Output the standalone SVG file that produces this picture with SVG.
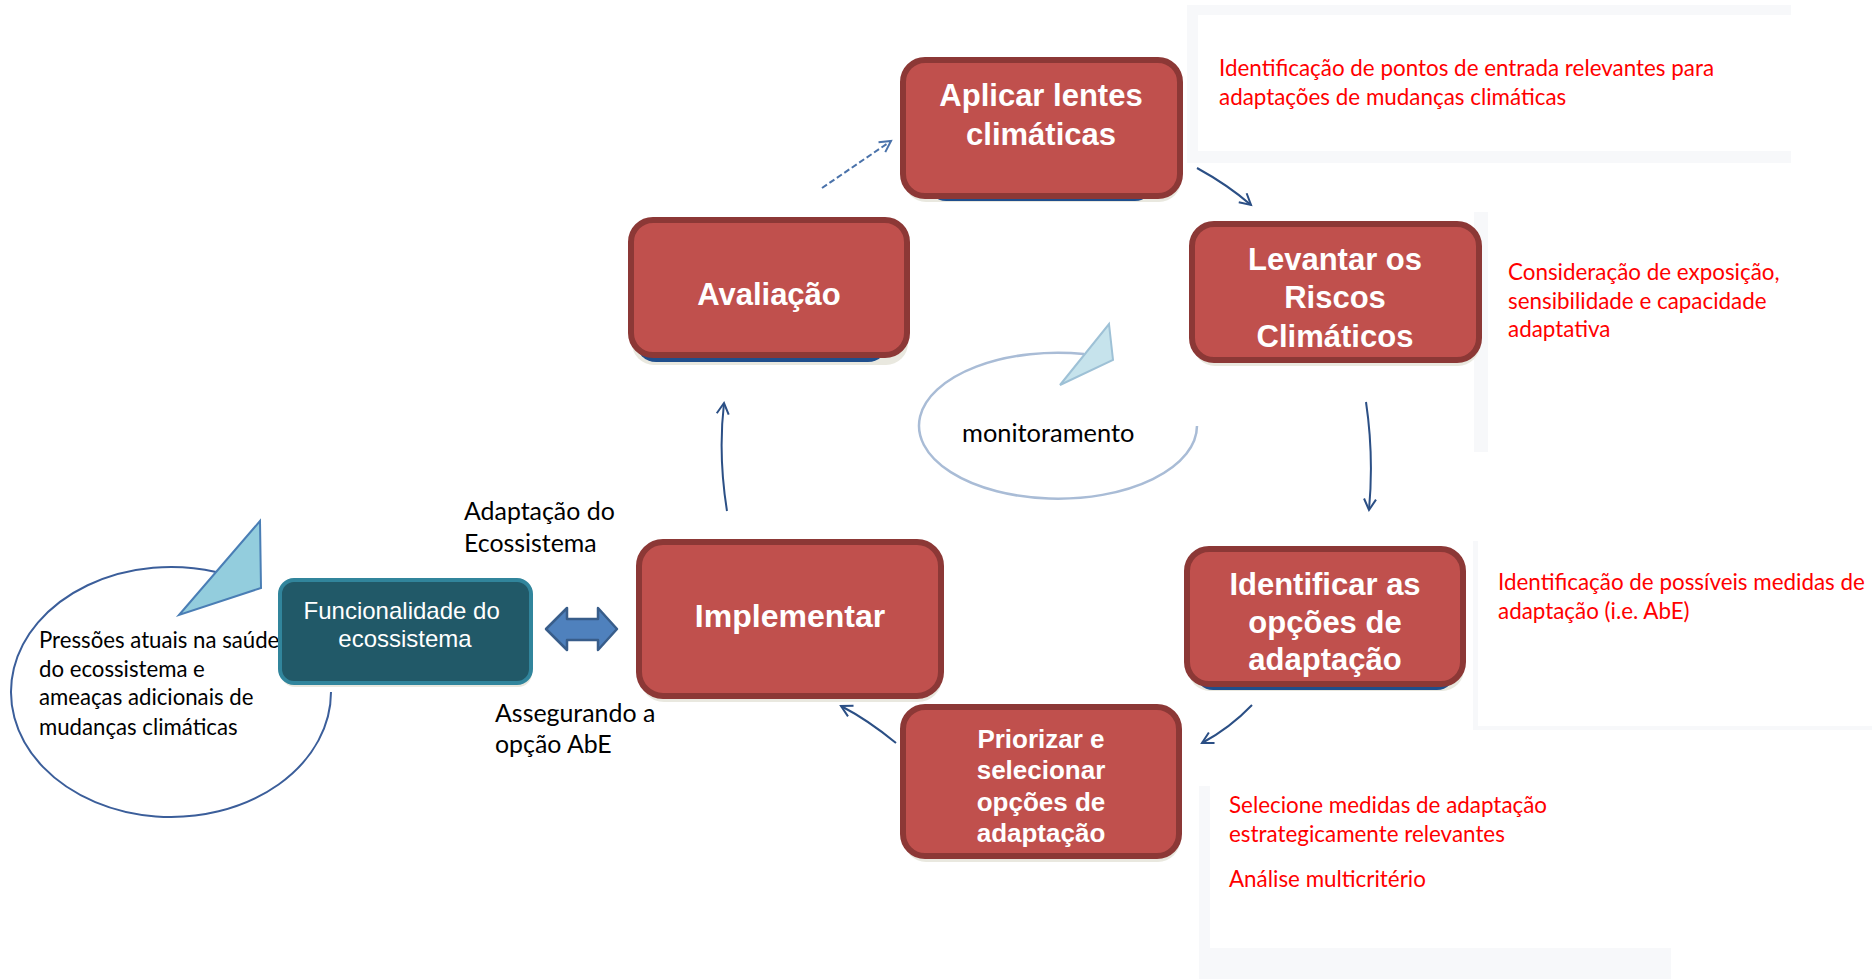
<svg xmlns="http://www.w3.org/2000/svg" width="1872" height="979" viewBox="0 0 1872 979">
<defs>
<style>
.box{fill:#C0504D;stroke:#8C3836;stroke-width:6}
.shadow{fill:#E9E8DF}
.blue{fill:#1F4E8C}
.bt{font-family:"Liberation Sans",Arial,sans-serif;font-weight:bold;fill:#FFFFFF;text-anchor:middle}
.red{font-family:Lato,"Open Sans",sans-serif;font-size:22.4px;fill:#FF0000}
.blk{font-family:Lato,"Open Sans",sans-serif;fill:#000000}
.frame{fill:#F7F8FA}
.con{fill:none;stroke:#2B4F85;stroke-width:2}
</style>
<marker id="ah" markerWidth="16" markerHeight="16" refX="13" refY="8" orient="auto" markerUnits="userSpaceOnUse">
<path d="M2,2 L13,8 L2,14" fill="none" stroke="#2B4F85" stroke-width="2"/>
</marker>
<marker id="ah2" markerWidth="16" markerHeight="16" refX="13" refY="8" orient="auto" markerUnits="userSpaceOnUse">
<path d="M2,2 L13,8 L2,14" fill="none" stroke="#4A72AA" stroke-width="2"/>
</marker>
</defs>
<rect width="1872" height="979" fill="#FFFFFF"/>

<g id="note-aplicar">
<rect class="frame" x="1187" y="5" width="604" height="158"/>
<rect x="1198" y="15" width="593" height="136" fill="#FFFFFF"/>
<text class="red" x="1219" y="76">Identificação de pontos de entrada relevantes para</text>
<text class="red" x="1219" y="105">adaptações de mudanças climáticas</text>
</g>
<g id="note-levantar">
<rect class="frame" x="1474" y="212" width="14" height="240"/>
<text class="red" x="1508" y="280">Consideração de exposição,</text>
<text class="red" x="1508" y="309">sensibilidade e capacidade</text>
<text class="red" x="1508" y="337">adaptativa</text>
</g>
<g id="note-identificar">
<rect class="frame" x="1473" y="541" width="399" height="189"/>
<rect x="1478" y="541" width="394" height="185" fill="#FFFFFF"/>
<text class="red" x="1498" y="590">Identificação de possíveis medidas de</text>
<text class="red" x="1498" y="619">adaptação (i.e. AbE)</text>
</g>
<g id="note-priorizar">
<rect class="frame" x="1199" y="786" width="472" height="193"/>
<rect x="1210" y="786" width="461" height="162" fill="#FFFFFF"/>
<text class="red" x="1229" y="813">Selecione medidas de adaptação</text>
<text class="red" x="1229" y="842">estrategicamente relevantes</text>
<text class="red" x="1229" y="887">Análise multicritério</text>
</g>

<g id="connectors">
<path class="con" d="M822,188 L891,141" stroke-dasharray="6,3" style="stroke:#4A72AA" marker-end="url(#ah2)"/>
<path class="con" d="M1197,168 Q1228,185 1251,205" marker-end="url(#ah)"/>
<path class="con" d="M1366,402 Q1374,456 1369,510" marker-end="url(#ah)"/>
<path class="con" d="M1252,705 Q1230,728 1202,743" marker-end="url(#ah)"/>
<path class="con" d="M896,743 Q868,720 841,706" marker-end="url(#ah)"/>
<path class="con" d="M727,511 Q718,455 724,403" marker-end="url(#ah)"/>
</g>

<g id="monitoramento">
<path d="M1084,354 A139,73 0 1 0 1197,426" fill="none" stroke="#A9BCD6" stroke-width="2.5"/>
<polygon points="1109,324 1113,360 1060,385" fill="#C6E3EC" stroke="#9EC1D6" stroke-width="2"/>
<text class="blk" x="962" y="442" font-size="25.4">monitoramento</text>
</g>

<g id="pressoes">
<path d="M216,572 A160,125 0 1 0 331,692" fill="#FFFFFF" stroke="#3B5E9A" stroke-width="2"/>
<polygon points="260,521 261,588 179,615" fill="#93CDDD" stroke="#4A7EB5" stroke-width="2"/>
<text class="blk" font-size="22.2">
<tspan x="39" y="648">Pressões atuais na saúde</tspan>
<tspan x="39" y="677">do ecossistema e</tspan>
<tspan x="39" y="705">ameaças adicionais de</tspan>
<tspan x="39" y="735">mudanças climáticas</tspan>
</text>
</g>

<g id="funcionalidade">
<rect x="281" y="584" width="251" height="103" rx="14" class="shadow"/>
<rect x="280" y="580" width="251" height="103" rx="14" fill="#215968" stroke="#31859C" stroke-width="4"/>
<text font-family="Liberation Sans, Arial, sans-serif" font-size="24" fill="#FFFFFF" text-anchor="middle">
<tspan x="405" y="619">Funcionalidade do</tspan>
<tspan x="405" y="647">ecossistema</tspan>
</text>
</g>

<g id="double-arrow">
<polygon points="546,629 567,608 567,619 598,619 598,608 617,629 598,650 598,640 567,640 567,650" fill="#4F81BD" stroke="#385D8A" stroke-width="2.5" stroke-linejoin="round"/>
</g>

<g id="labels">
<text class="blk" font-size="24.9"><tspan x="464" y="520">Adaptação do</tspan><tspan x="464" y="552">Ecossistema</tspan></text>
<text class="blk" font-size="24.9"><tspan x="495" y="722">Assegurando a</tspan><tspan x="495" y="753">opção AbE</tspan></text>
</g>

<g id="aplicar">
<rect class="shadow" x="904" y="64" width="277" height="138" rx="22"/>
<rect class="blue" x="928" y="150" width="225" height="51" rx="18"/>
<rect class="box" x="903" y="60" width="277" height="136" rx="22"/>
<text class="bt" font-size="31"><tspan x="1041" y="106">Aplicar lentes</tspan><tspan x="1041" y="145">climáticas</tspan></text>
</g>

<g id="levantar">
<rect class="shadow" x="1193" y="228" width="287" height="138" rx="22"/>
<rect class="box" x="1192" y="224" width="287" height="136" rx="22"/>
<text class="bt" font-size="31"><tspan x="1335" y="270">Levantar os</tspan><tspan x="1335" y="308">Riscos</tspan><tspan x="1335" y="347">Climáticos</tspan></text>
</g>

<g id="avaliacao">
<rect class="shadow" x="632" y="226" width="276" height="139" rx="22"/>
<rect class="blue" x="636" y="300" width="252" height="62" rx="20"/>
<rect class="box" x="631" y="220" width="276" height="135" rx="22"/>
<text class="bt" font-size="31" x="769" y="305">Avaliação</text>
</g>

<g id="implementar">
<rect class="shadow" x="640" y="546" width="302" height="156" rx="24"/>
<rect class="box" x="639" y="542" width="302" height="154" rx="24"/>
<text class="bt" font-size="32" x="790" y="627">Implementar</text>
</g>

<g id="identificar">
<rect class="shadow" x="1188" y="553" width="276" height="138" rx="22"/>
<rect class="blue" x="1195" y="640" width="260" height="50" rx="18"/>
<rect class="box" x="1187" y="549" width="276" height="135" rx="22"/>
<text class="bt" font-size="31"><tspan x="1325" y="595">Identificar as</tspan><tspan x="1325" y="633">opções de</tspan><tspan x="1325" y="670">adaptação</tspan></text>
</g>

<g id="priorizar">
<rect class="shadow" x="904" y="711" width="276" height="151" rx="22"/>
<rect class="box" x="903" y="707" width="276" height="149" rx="22"/>
<text class="bt" font-size="26"><tspan x="1041" y="748">Priorizar e</tspan><tspan x="1041" y="779">selecionar</tspan><tspan x="1041" y="811">opções de</tspan><tspan x="1041" y="842">adaptação</tspan></text>
</g>
</svg>
